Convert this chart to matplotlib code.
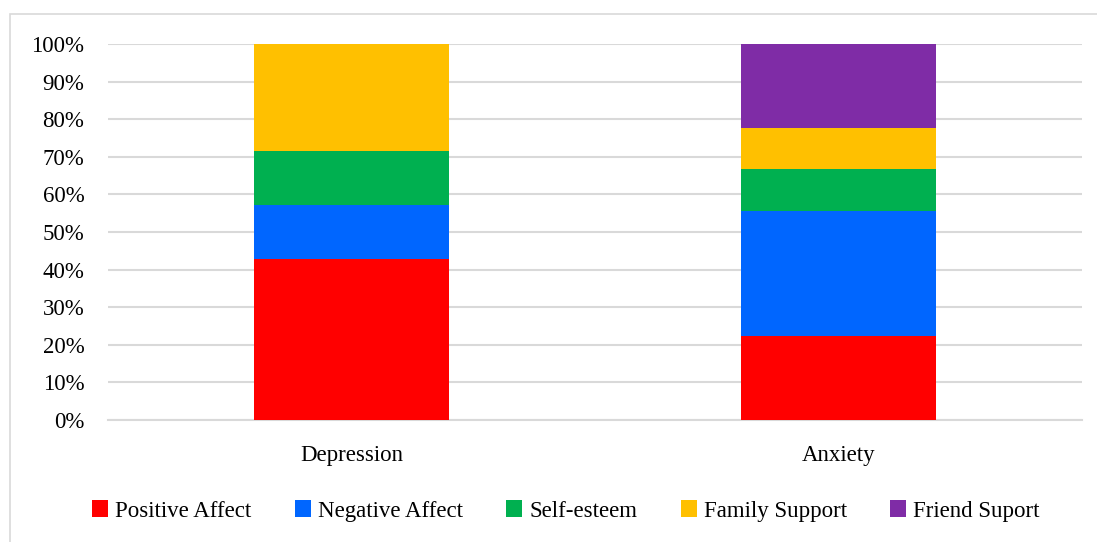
import matplotlib.pyplot as plt
from matplotlib.patches import Rectangle
from matplotlib.ticker import PercentFormatter

plt.rcParams['font.family'] = ['Liberation Serif', 'DejaVu Serif']

categories = ['Depression', 'Anxiety']
series = ['Positive Affect', 'Negative Affect', 'Self-esteem', 'Family Support', 'Friend Suport']
colors = ['#FF0000', '#0066FF', '#00B050', '#FFC000', '#7F2CA6']

# share of each factor (%)
positive_affect = [42.86, 22.22]
negative_affect = [14.29, 33.33]
self_esteem = [14.29, 11.11]
family_support = [28.57, 11.11]
friend_support = [0.0, 22.22]
values = [positive_affect, negative_affect, self_esteem, family_support, friend_support]

fig = plt.figure(figsize=(10.97, 5.42), dpi=100)
fig.patches.append(Rectangle((10 / 1097, -0.1), 1.2, 1 - 14 / 542 + 0.1,
                             transform=fig.transFigure, fill=False,
                             edgecolor='#D9D9D9', linewidth=1.2))
ax = fig.add_axes([108 / 1097, 1 - 420 / 542, 974 / 1097, 376 / 542])

x = range(len(categories))
bottom = [0.0] * len(categories)
for name, vals, c in zip(series, values, colors):
    ax.bar(x, vals, width=0.40, bottom=bottom, color=c, label=name, zorder=3)
    bottom = [b + v for b, v in zip(bottom, vals)]

ax.set_xlim(-0.5, 1.5)
ax.set_ylim(0, 100)
ax.set_yticks(range(0, 101, 10))
ax.yaxis.set_major_formatter(PercentFormatter(decimals=0))
ax.set_xticks(list(x))
ax.set_xticklabels(categories)
ax.tick_params(length=0, labelsize=16.5, colors='black')
ax.tick_params(axis='x', pad=18)
ax.tick_params(axis='y', pad=17)
ax.grid(axis='y', color='#D9D9D9', linewidth=1.5, zorder=0)
for s in ['top', 'right', 'left']:
    ax.spines[s].set_visible(False)
ax.spines['bottom'].set_color('#D9D9D9')
ax.spines['bottom'].set_linewidth(1.5)

fig.legend(loc='center', bbox_to_anchor=(566 / 1097, 1 - 511 / 542), ncol=5,
           frameon=False, fontsize=16.5, handlelength=0.7, handleheight=0.7,
           handletextpad=0.3, columnspacing=1.9)

fig.savefig('out.png', dpi=100)
